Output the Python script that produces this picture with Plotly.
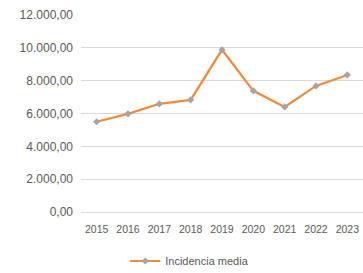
import plotly.graph_objects as go

years = ["2015", "2016", "2017", "2018", "2019", "2020", "2021", "2022", "2023"]
incidencia = [5500, 5980, 6590, 6830, 9880, 7380, 6400, 7680, 8350]
series_name = "Incidencia media"
y_ticks = [0, 2000, 4000, 6000, 8000, 10000, 12000]

fig = go.Figure()
fig.add_trace(go.Scatter(
    x=years, y=incidencia, name=series_name, mode="lines+markers",
    line=dict(color="#EF8A3E", width=2.2),
    marker=dict(symbol="diamond", size=5.5, color="#A5A5A5"),
))

fig.update_layout(
    width=363, height=273,
    margin=dict(l=81, r=0, t=15, b=61),
    paper_bgcolor="white", plot_bgcolor="white",
    separators=",.",
    font=dict(family="Liberation Sans", color="#595959"),
    showlegend=True,
    legend=dict(orientation="h", xref="container", yref="container",
                x=0.345, xanchor="left", y=0.044, yanchor="middle",
                itemwidth=30, font=dict(size=11, color="#595959")),
    xaxis=dict(type="category", showgrid=False, showline=False, ticks="",
               tickfont=dict(size=10.5), range=[-0.5, 8.5],
               ticklabelstandoff=9),
    yaxis=dict(range=[0, 12000], tickvals=y_ticks, tickformat=",.2f",
               showgrid=True, gridcolor="#D9D9D9", gridwidth=1,
               zeroline=True, zerolinecolor="#D9D9D9", zerolinewidth=1,
               showline=False, ticks="", ticklen=0,
               tickfont=dict(size=12), ticklabelstandoff=7),
)

fig.write_html("out.html",
               config={"displayModeBar": False},
               post_script="document.body.style.margin='0';document.body.style.overflow='hidden';")
